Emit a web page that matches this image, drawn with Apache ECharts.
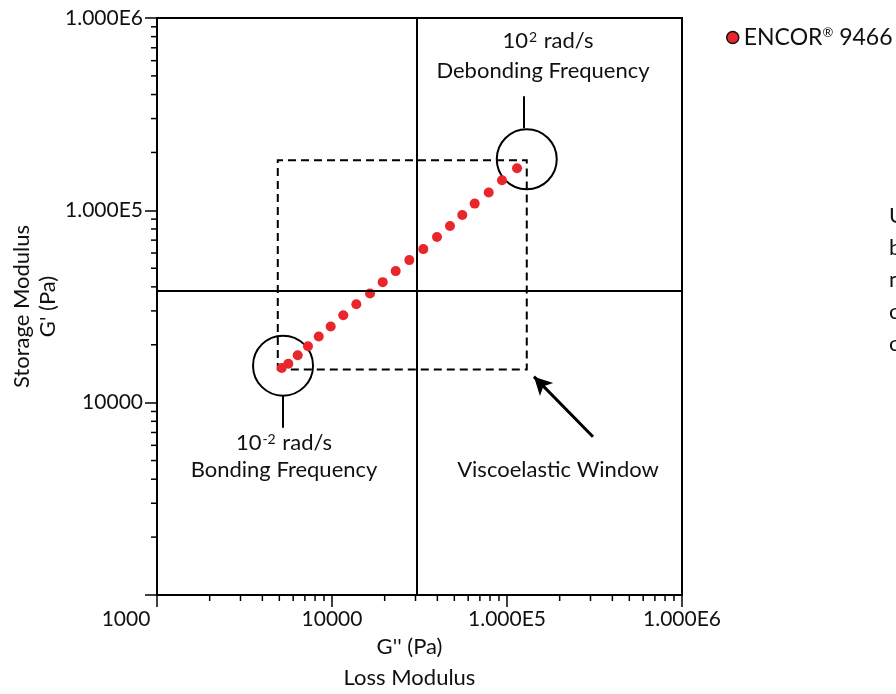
<!DOCTYPE html>
<html>
<head>
<meta charset="utf-8">
<script src="https://cdn.jsdelivr.net/npm/echarts@6/dist/echarts.min.js"></script>
<style>
  html, body { margin: 0; padding: 0; background: #fff; }
  #chart { width: 896px; height: 694px; }
</style>
</head>
<body>
<div id="chart"></div>
<script>
// ---- data ----
const seriesName = 'ENCOR® 9466';
// Loss modulus G'' (Pa)
const lossModulus = [5160, 5630, 6370, 7290, 8400, 9830, 11600, 13770, 16490, 19490,
                     23120, 27650, 33240, 39810, 47240, 55530, 65370, 78620, 93630, 114100];
// Storage modulus G' (Pa)
const storageModulus = [15160, 15950, 17630, 19640, 22070, 24880, 28500, 32510, 36960, 42330,
                        48300, 55100, 62860, 72610, 82820, 94520, 108400, 123700, 143300, 165500];

// axis ticks
const tickValues = [1000, 10000, 100000, 1000000];
const xTickLabels = ['1000', '10000', '1.000E5', '1.000E6'];
const yTickLabels = ['', '10000', '1.000E5', '1.000E6'];
const minorMultipliers = [2, 3, 4, 5, 6, 7, 8, 9];
const minorDecades = [1000, 10000, 100000];

// reference crosshair lines
const crossX = 30500;
const crossY = 38300;

// viscoelastic window (dashed box)
const windowX = [4900, 129700];
const windowY = [14860, 182000];

// frequency circles: [G'', G']
const bondingCircle = [5250, 15580];
const debondingCircle = [129700, 184300];
// leader lines
const debondLeader = [[125000, 267000], [125000, 392400]];
const bondLeader = [[5250, 10880], [5250, 7415]];
// arrow (tail -> tip)
const windowArrow = [[310000, 6650], [142600, 13650]];

// ---- build ----
const FONT = 'Lato';
const minorTicks = [];
minorDecades.forEach(d => minorMultipliers.forEach(m => minorTicks.push(d * m)));

const points = lossModulus.map((x, i) => [x, storageModulus[i]]);

const chart = echarts.init(document.getElementById('chart'), null, { renderer: 'canvas' });

function labelFor(arr, value) {
  const i = tickValues.findIndex(t => Math.abs(Math.log10(t) - Math.log10(value)) < 1e-6);
  return i >= 0 ? arr[i] : '';
}

const option = {
  backgroundColor: '#fff',
  animation: false,
  textStyle: { fontFamily: FONT, color: '#111' },
  grid: {
    left: 157, right: 214, top: 18, bottom: 99,
    containLabel: false, outerBoundsMode: 'none',
    show: true, borderColor: '#000', borderWidth: 2, backgroundColor: 'transparent'
  },
  legend: {
    left: 721, top: 21,
    icon: 'circle', itemWidth: 12, itemHeight: 12, itemGap: 5,
    data: [{ name: seriesName, itemStyle: { color: '#e8262c', borderColor: '#111', borderWidth: 1.5, opacity: 1 } }],
    formatter: n => n.replace('®', '{s|®}'),
    textStyle: {
      fontFamily: FONT, fontSize: 23, color: '#111',
      rich: { s: { fontFamily: FONT, fontSize: 13, color: '#111', verticalAlign: 'top', padding: [0, 0, 10, 0] } }
    }
  },
  xAxis: {
    type: 'log', logBase: 10, min: 1000, max: 1000000,
    name: "G'' (Pa)\nLoss Modulus",
    nameLocation: 'middle', nameGap: 36, nameMoveOverlap: false,
    nameTextStyle: { fontFamily: FONT, fontSize: 22, color: '#111', lineHeight: 31, padding: [0, 20, 0, 0] },
    axisLine: { show: true, onZero: false, lineStyle: { color: '#000', width: 2 } },
    axisTick: { show: true, inside: false, length: 12, lineStyle: { color: '#000', width: 1.5 } },
    minorTick: { show: false },
    splitLine: { show: false },
    axisLabel: {
      show: true, showMinLabel: true, showMaxLabel: true, margin: 14,
      fontFamily: FONT, fontSize: 21, color: '#111',
      formatter: v => {
        const s = labelFor(xTickLabels, v);
        return Math.abs(v - 1000) < 1e-6 ? '{l|' + s + '}' : s;
      },
      rich: { l: { fontFamily: FONT, fontSize: 21, color: '#111', padding: [0, 62, 0, 0] } }
    }
  },
  yAxis: {
    type: 'log', logBase: 10, min: 1000, max: 1000000,
    name: "Storage Modulus\nG' (Pa)",
    nameLocation: 'middle', nameGap: 96, nameRotate: 90, nameMoveOverlap: false,
    nameTextStyle: { fontFamily: FONT, fontSize: 22, color: '#111', lineHeight: 26 },
    axisLine: { show: true, onZero: false, lineStyle: { color: '#000', width: 2 } },
    axisTick: { show: true, inside: false, length: 12, lineStyle: { color: '#000', width: 1.5 } },
    minorTick: { show: false },
    splitLine: { show: false },
    axisLabel: {
      show: true, showMinLabel: true, showMaxLabel: true, margin: 14,
      fontFamily: FONT, fontSize: 21, color: '#111',
      formatter: v => labelFor(yTickLabels, v)
    }
  },
  series: [
    {
      name: seriesName,
      type: 'scatter',
      data: points,
      symbol: 'circle', symbolSize: 10,
      itemStyle: { color: '#e8262c', opacity: 1 },
      z: 4,
      markLine: {
        silent: true, symbol: ['none', 'none'], label: { show: false },
        lineStyle: { color: '#000', width: 2, type: 'solid', opacity: 1 },
        data: [
          { xAxis: crossX },
          { yAxis: crossY },
          [{ coord: debondLeader[0] }, { coord: debondLeader[1] }],
          [{ coord: bondLeader[0] }, { coord: bondLeader[1] }]
        ]
      },
      markArea: {
        silent: true, label: { show: false },
        itemStyle: { color: 'rgba(0,0,0,0)', borderColor: '#000', borderWidth: 2, borderType: [8, 5], opacity: 1 },
        data: [[{ coord: [windowX[0], windowY[0]] }, { coord: [windowX[1], windowY[1]] }]]
      }
    },
    {
      name: 'circles',
      type: 'scatter',
      data: [bondingCircle, debondingCircle],
      symbol: 'circle', symbolSize: 60,
      itemStyle: { color: 'rgba(0,0,0,0)', borderColor: '#000', borderWidth: 2, opacity: 1 },
      silent: true, z: 3,
      markLine: {
        silent: true, symbol: ['none', 'arrow'], symbolSize: [14, 18], label: { show: false },
        lineStyle: { color: '#000', width: 3, type: 'solid', opacity: 1 },
        itemStyle: { color: '#000', opacity: 1 },
        data: [[{ coord: windowArrow[0] }, { coord: windowArrow[1] }]]
      }
    },
    {
      name: 'xMinor',
      type: 'custom', coordinateSystem: 'cartesian2d', silent: true, clip: false, z: 6,
      data: minorTicks.map(v => [v, 1000]),
      renderItem: (p, api) => {
        const pt = api.coord([api.value(0), api.value(1)]);
        return { type: 'line', shape: { x1: pt[0], y1: pt[1], x2: pt[0], y2: pt[1] + 6 },
                 style: { stroke: '#000', lineWidth: 1.5 } };
      }
    },
    {
      name: 'yMinor',
      type: 'custom', coordinateSystem: 'cartesian2d', silent: true, clip: false, z: 6,
      data: minorTicks.map(v => [1000, v]),
      renderItem: (p, api) => {
        const pt = api.coord([api.value(0), api.value(1)]);
        return { type: 'line', shape: { x1: pt[0], y1: pt[1], x2: pt[0] - 6, y2: pt[1] },
                 style: { stroke: '#000', lineWidth: 1.5 } };
      }
    }
  ],
  graphic: [
    { type: 'text', x: 548, y: 41, silent: true,
      style: { text: '10{sup|2} rad/s', fontFamily: FONT, fontSize: 22, fill: '#111',
               textAlign: 'center', textVerticalAlign: 'middle',
               rich: { sup: { fontFamily: FONT, fontSize: 14, fill: '#111', verticalAlign: 'top', padding: [0, 1, 8, 1] } } } },
    { type: 'text', x: 543, y: 71, silent: true,
      style: { text: 'Debonding Frequency', fontFamily: FONT, fontSize: 22, fill: '#111',
               textAlign: 'center', textVerticalAlign: 'middle' } },
    { type: 'text', x: 284, y: 443, silent: true,
      style: { text: '10{sup|-2} rad/s', fontFamily: FONT, fontSize: 22, fill: '#111',
               textAlign: 'center', textVerticalAlign: 'middle',
               rich: { sup: { fontFamily: FONT, fontSize: 14, fill: '#111', verticalAlign: 'top', padding: [0, 1, 8, 1] } } } },
    { type: 'text', x: 284, y: 470, silent: true,
      style: { text: 'Bonding Frequency', fontFamily: FONT, fontSize: 22, fill: '#111',
               textAlign: 'center', textVerticalAlign: 'middle' } },
    { type: 'text', x: 558, y: 470, silent: true,
      style: { text: 'Viscoelastic Window', fontFamily: FONT, fontSize: 22, fill: '#111',
               textAlign: 'center', textVerticalAlign: 'middle' } },
    { type: 'text', x: 889, y: 200, silent: true,
      style: { text: 'U\nb\nn\no\no', fontFamily: FONT, fontSize: 22, lineHeight: 32, fill: '#111',
               textAlign: 'left', textVerticalAlign: 'top' } }
  ]
};

chart.setOption(option);
</script>
</body>
</html>
